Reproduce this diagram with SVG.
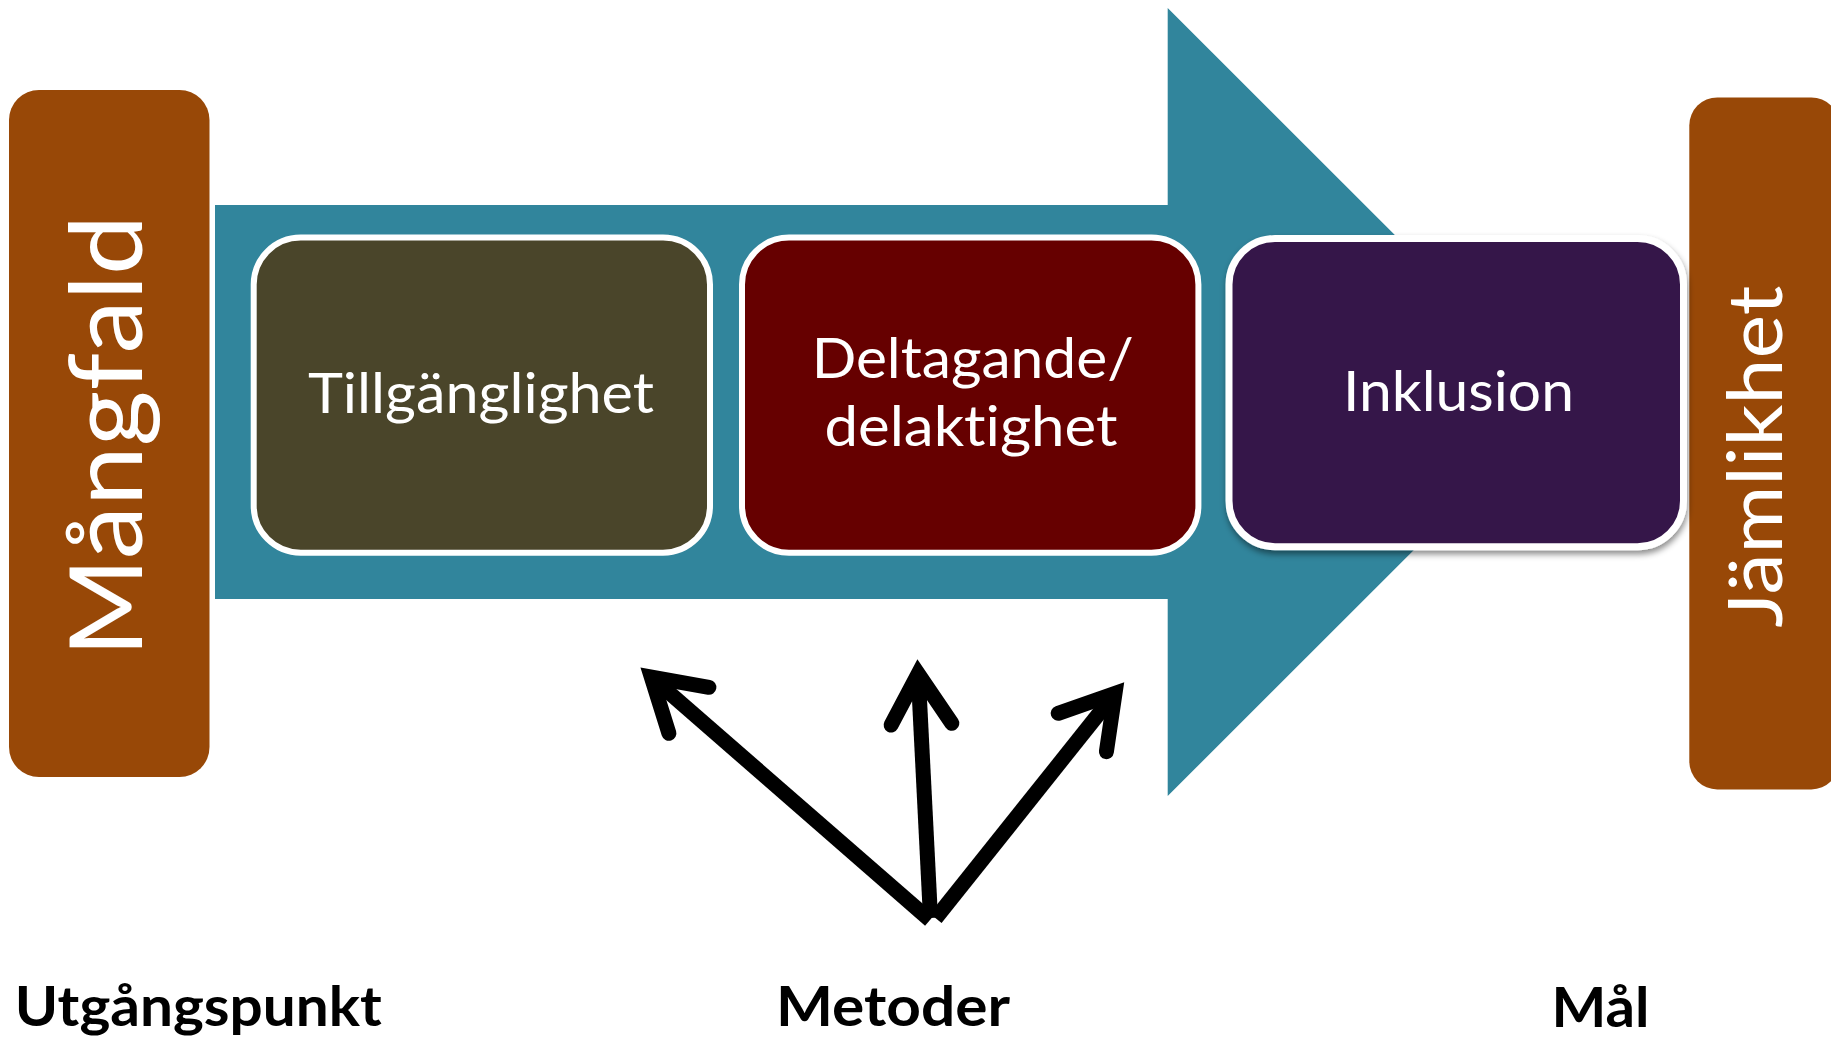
<svg xmlns="http://www.w3.org/2000/svg" width="1831" height="1039" viewBox="0 0 1831 1039">
  <defs>
    <style>
      text { font-variant-ligatures: none; font-feature-settings: "liga" 0, "dlig" 0; }
      .pill { fill: #984807; }
      .box { stroke: #FFFFFF; }
      .boxtext { font-family: Lato, "Liberation Sans", sans-serif; font-size: 57px; fill: #FFFFFF; text-anchor: middle; }
      .sidetext { font-family: Lato, "Liberation Sans", sans-serif; fill: #FFFFFF; text-anchor: middle; }
      .label { font-family: Lato, "Liberation Sans", sans-serif; font-weight: bold; font-size: 55px; fill: #000000; text-anchor: middle; }
      .conn { fill: none; stroke: #000000; stroke-width: 15; }
      .shaft { stroke-linecap: butt; }
      .head { stroke-linecap: round; stroke-linejoin: miter; stroke-miterlimit: 6; }
    </style>
    <filter id="shadow" x="-10%" y="-10%" width="125%" height="130%">
      <feDropShadow dx="1" dy="4" stdDeviation="3" flood-color="#000000" flood-opacity="0.45"/>
    </filter>
  </defs>

  <rect width="1831" height="1039" fill="#FFFFFF"/>

  <g id="main-arrow">
    <polygon points="215,205 1167.7,205 1167.7,8 1562,402 1167.7,796 1167.7,599 215,599" fill="#31859C"/>
  </g>

  <g id="node-mangfald">
    <rect class="pill" x="9" y="90" width="200.5" height="687" rx="30"/>
    <text class="sidetext" font-size="100" textLength="442" lengthAdjust="spacingAndGlyphs" transform="translate(141.7,436) rotate(-90)" x="0" y="0">Mångfald</text>
  </g>

  <g id="node-jamlikhet">
    <rect class="pill" x="1689.3" y="97.4" width="150" height="692" rx="28"/>
    <text class="sidetext" font-size="75" textLength="342" lengthAdjust="spacingAndGlyphs" transform="translate(1781.7,456.7) rotate(-90)" x="0" y="0">Jämlikhet</text>
  </g>

  <g id="node-tillganglighet">
    <rect class="box" x="253.7" y="237.6" width="456.3" height="315.1" rx="47" fill="#4A452A" stroke-width="6"/>
    <text class="boxtext" x="481" y="413" textLength="346" lengthAdjust="spacingAndGlyphs">Tillgänglighet</text>
  </g>

  <g id="node-deltagande">
    <rect class="box" x="742" y="237.6" width="456.4" height="315.1" rx="47" fill="#660000" stroke-width="6"/>
    <text class="boxtext" x="972.7" y="377.5" textLength="322" lengthAdjust="spacingAndGlyphs">Deltagande/</text>
    <text class="boxtext" x="971" y="446.4" textLength="293" lengthAdjust="spacingAndGlyphs">delaktighet</text>
  </g>

  <g id="node-inklusion">
    <rect class="box" x="1229" y="238.5" width="454.5" height="308.3" rx="46" fill="#36174A" stroke-width="7" filter="url(#shadow)"/>
    <text class="boxtext" x="1458.5" y="410.6" textLength="231" lengthAdjust="spacingAndGlyphs">Inklusion</text>
  </g>

  <g id="connectors">
    <line class="conn shaft" x1="651.3" y1="677.1" x2="930" y2="920"/>
    <polyline class="conn head" points="708.9,687.3 651.3,677.1 668.9,733.3"/>
    <line class="conn shaft" x1="918.2" y1="673.7" x2="930.5" y2="918"/>
    <polyline class="conn head" points="891.1,725 918.2,673.7 951.8,723.3"/>
    <line class="conn shaft" x1="1115" y1="693.5" x2="935.7" y2="918.3"/>
    <polyline class="conn head" points="1058.2,713.3 1115,693.5 1106.4,751.7"/>
  </g>

  <g id="labels">
    <text id="label-utgangspunkt" class="label" x="198.3" y="1026" textLength="367" lengthAdjust="spacingAndGlyphs">Utgångspunkt</text>
    <text id="label-metoder" class="label" x="893" y="1026" textLength="234" lengthAdjust="spacingAndGlyphs">Metoder</text>
    <text id="label-mal" class="label" x="1600.5" y="1027" textLength="98" lengthAdjust="spacingAndGlyphs">Mål</text>
  </g>
</svg>
